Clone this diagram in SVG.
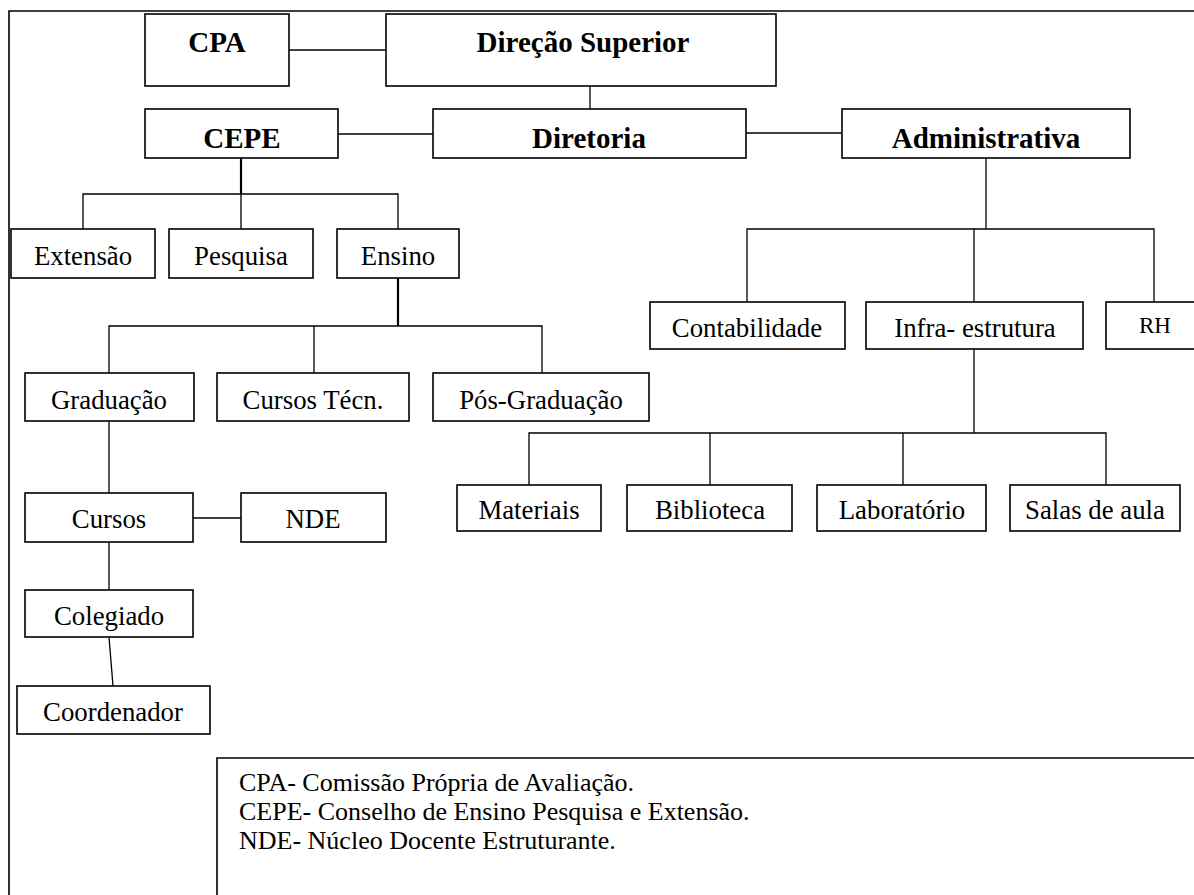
<svg xmlns="http://www.w3.org/2000/svg" width="1194" height="895" viewBox="0 0 1194 895">
<style>
.b{fill:#fff;stroke:#000;stroke-width:1.6}
.t{font-family:"Liberation Serif","Times New Roman",serif;font-size:26.8px;fill:#000;text-anchor:middle}
.tb{font-family:"Liberation Serif","Times New Roman",serif;font-size:29px;font-weight:bold;fill:#000;text-anchor:middle}
.l{font-family:"Liberation Serif","Times New Roman",serif;font-size:26px;fill:#000}
.c line,.c path{stroke:#000;stroke-width:1.3;fill:none}
.c .k{stroke-width:2.2}
</style>
<rect width="1194" height="895" fill="#fff"/>
<path d="M9,895 V11 H1194" fill="none" stroke="#000" stroke-width="1.6"/>
<g class="c" id="connectors">
<line x1="289" y1="50" x2="386" y2="50"/>
<line x1="590" y1="86" x2="590" y2="109"/>
<line x1="338" y1="134" x2="433" y2="134"/>
<line x1="746" y1="133" x2="842" y2="133"/>
<line class="k" x1="241" y1="158" x2="241" y2="194"/>
<path d="M83,229 V194 H398 V229 M241,194 V229"/>
<line class="k" x1="398" y1="278" x2="398" y2="326"/>
<path d="M109,373 V326 H542 V373 M314,326 V373"/>
<line x1="109" y1="421" x2="109" y2="493"/>
<line x1="193" y1="518" x2="241" y2="518"/>
<line x1="109" y1="542" x2="109" y2="590"/>
<line x1="109" y1="637" x2="113" y2="686"/>
<line x1="986" y1="158" x2="986" y2="229"/>
<path d="M747,302 V229 H1154 V302 M974,229 V302"/>
<line x1="974" y1="349" x2="974" y2="433"/>
<path d="M529,485 V433 H1106 V485 M710,433 V485 M903,433 V485"/>
</g>
<g id="cpa"><rect class="b" x="145" y="14" width="144" height="72"/><text class="tb" x="217" y="52">CPA</text></g>
<g id="direcao"><rect class="b" x="386" y="14" width="390" height="72"/><text class="tb" x="583" y="52">Direção Superior</text></g>
<g id="cepe"><rect class="b" x="145" y="109" width="193" height="49"/><text class="tb" x="242" y="148">CEPE</text></g>
<g id="diretoria"><rect class="b" x="433" y="109" width="313" height="49"/><text class="tb" x="589" y="148">Diretoria</text></g>
<g id="administrativa"><rect class="b" x="842" y="109" width="288" height="49"/><text class="tb" x="986" y="148">Administrativa</text></g>
<g id="extensao"><rect class="b" x="11" y="229" width="144" height="49"/><text class="t" x="83" y="265">Extensão</text></g>
<g id="pesquisa"><rect class="b" x="169" y="229" width="144" height="49"/><text class="t" x="241" y="265">Pesquisa</text></g>
<g id="ensino"><rect class="b" x="337" y="229" width="122" height="49"/><text class="t" x="398" y="265">Ensino</text></g>
<g id="graduacao"><rect class="b" x="25" y="373" width="169" height="48"/><text class="t" x="109" y="409">Graduação</text></g>
<g id="cursostecn"><rect class="b" x="217" y="373" width="192" height="48"/><text class="t" x="313" y="409">Cursos Técn.</text></g>
<g id="posgraduacao"><rect class="b" x="433" y="373" width="216" height="48"/><text class="t" x="541" y="409">Pós-Graduação</text></g>
<g id="cursos"><rect class="b" x="25" y="493" width="168" height="49"/><text class="t" x="109" y="528">Cursos</text></g>
<g id="nde"><rect class="b" x="241" y="493" width="145" height="49"/><text class="t" x="313" y="528">NDE</text></g>
<g id="colegiado"><rect class="b" x="25" y="590" width="168" height="47"/><text class="t" x="109" y="625">Colegiado</text></g>
<g id="coordenador"><rect class="b" x="17" y="686" width="193" height="48"/><text class="t" x="113" y="721">Coordenador</text></g>
<g id="contabilidade"><rect class="b" x="650" y="302" width="195" height="47"/><text class="t" x="747" y="337">Contabilidade</text></g>
<g id="infra"><rect class="b" x="866" y="302" width="217" height="47"/><text class="t" x="975" y="337">Infra- estrutura</text></g>
<g id="rh"><rect class="b" x="1106" y="302" width="95" height="47"/><text class="t" x="1155" y="333" style="font-size:23px">RH</text></g>
<g id="materiais"><rect class="b" x="457" y="485" width="144" height="46"/><text class="t" x="529" y="519">Materiais</text></g>
<g id="biblioteca"><rect class="b" x="627" y="485" width="165" height="46"/><text class="t" x="710" y="519">Biblioteca</text></g>
<g id="laboratorio"><rect class="b" x="817" y="485" width="169" height="46"/><text class="t" x="902" y="519">Laboratório</text></g>
<g id="salas"><rect class="b" x="1010" y="485" width="170" height="46"/><text class="t" x="1095" y="519">Salas de aula</text></g>
<g id="legenda"><path d="M217,895 V758 H1194" fill="none" stroke="#000" stroke-width="1.6"/>
<text class="l" x="239" y="791">CPA- Comissão Própria de Avaliação.</text>
<text class="l" x="239" y="820">CEPE- Conselho de Ensino Pesquisa e Extensão.</text>
<text class="l" x="239" y="849">NDE- Núcleo Docente Estruturante.</text></g>
</svg>
